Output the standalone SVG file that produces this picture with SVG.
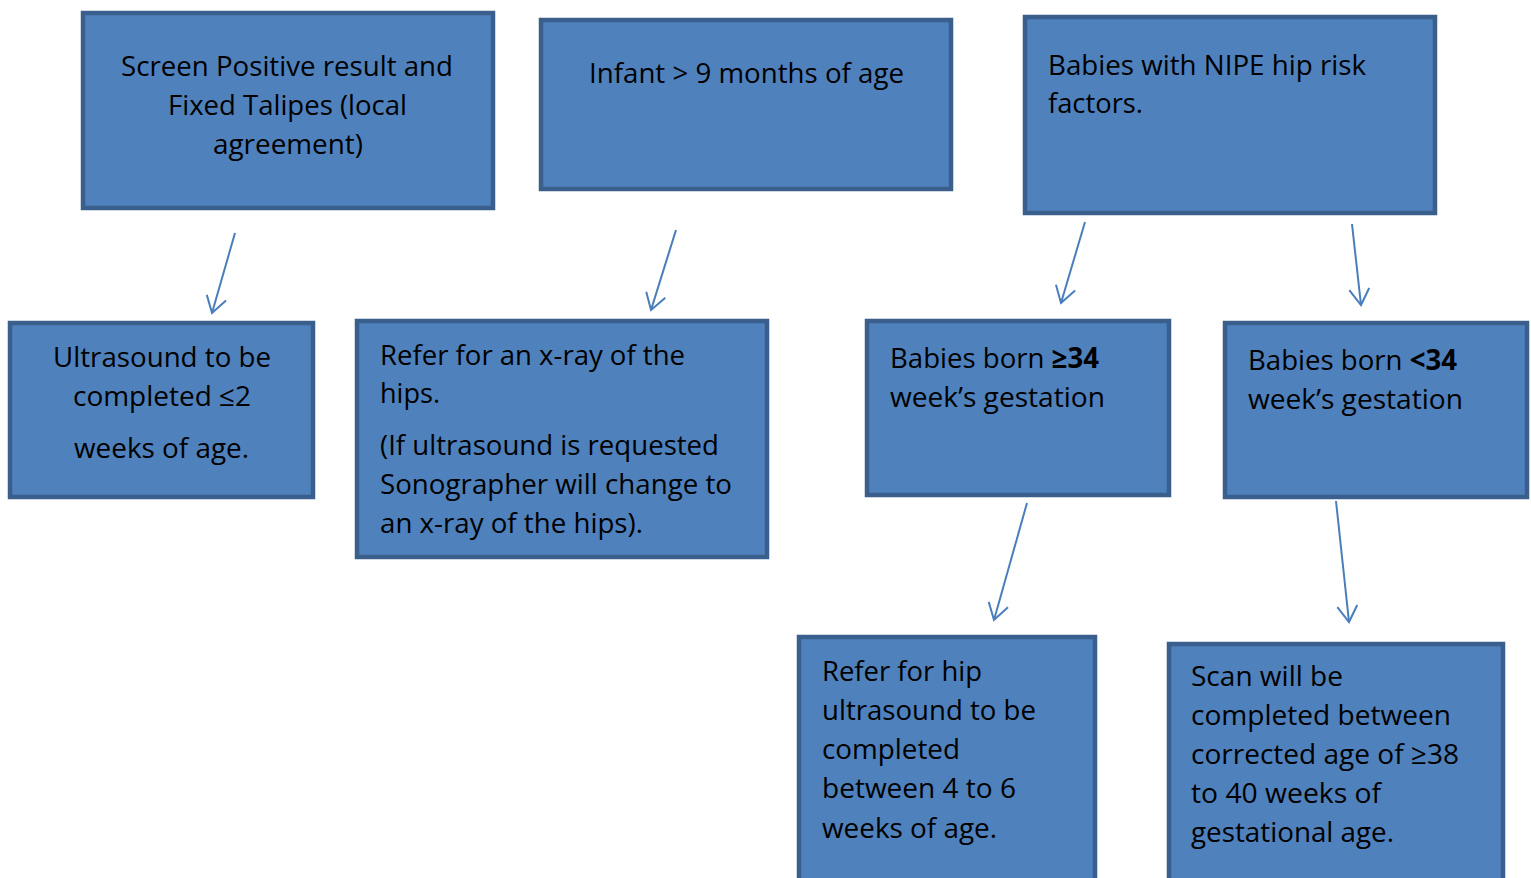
<svg xmlns="http://www.w3.org/2000/svg" width="1531" height="878" viewBox="0 0 1531 878">
<style>
.box{fill:#4F81BD;stroke:#3A5F8D;stroke-width:4.5}
.t{font-family:"Open Sans","Noto Sans",sans-serif;font-size:28px;fill:#000}
.c{text-anchor:middle}
.b{font-weight:bold}
.conn line{stroke:#4A7EBB;stroke-width:2;marker-end:url(#ah)}
</style>
<defs>
<marker id="ah" markerUnits="userSpaceOnUse" markerWidth="20" markerHeight="24" viewBox="0 0 20 24" refX="18" refY="12" orient="auto">
<path d="M2,2 L18,12 L2,22" fill="none" stroke="#4A7EBB" stroke-width="2"/>
</marker>
</defs>
<rect width="1531" height="878" fill="#fff"/>

<g id="n1">
<rect class="box" x="83" y="13" width="410" height="195"/>
<text class="t" x="121" y="76" textLength="332" lengthAdjust="spacingAndGlyphs">Screen Positive result and</text>
<text class="t" x="168" y="115" textLength="239" lengthAdjust="spacingAndGlyphs">Fixed Talipes (local</text>
<text class="t" x="213" y="154" textLength="150" lengthAdjust="spacingAndGlyphs">agreement)</text>
</g>

<g id="n2">
<rect class="box" x="541" y="20" width="410" height="169"/>
<text class="t" x="589" y="83" textLength="315" lengthAdjust="spacingAndGlyphs">Infant &gt; 9 months of age</text>
</g>

<g id="n3">
<rect class="box" x="1025" y="17" width="410" height="196"/>
<text class="t" x="1048" y="75" textLength="318" lengthAdjust="spacingAndGlyphs">Babies with NIPE hip risk</text>
<text class="t" x="1048" y="113" textLength="95" lengthAdjust="spacingAndGlyphs">factors.</text>
</g>

<g id="n4">
<rect class="box" x="10" y="323" width="303" height="174"/>
<text class="t" x="53" y="367" textLength="218" lengthAdjust="spacingAndGlyphs">Ultrasound to be</text>
<text class="t" x="73" y="406" textLength="178" lengthAdjust="spacingAndGlyphs">completed ≤2</text>
<text class="t" x="74" y="458" textLength="175" lengthAdjust="spacingAndGlyphs">weeks of age.</text>
</g>

<g id="n5">
<rect class="box" x="357" y="321" width="410" height="236"/>
<text class="t" x="380" y="365" textLength="305" lengthAdjust="spacingAndGlyphs">Refer for an x-ray of the</text>
<text class="t" x="380" y="403" textLength="60" lengthAdjust="spacingAndGlyphs">hips.</text>
<text class="t" x="380" y="455" textLength="339" lengthAdjust="spacingAndGlyphs">(If ultrasound is requested</text>
<text class="t" x="380" y="494" textLength="352" lengthAdjust="spacingAndGlyphs">Sonographer will change to</text>
<text class="t" x="380" y="533" textLength="263" lengthAdjust="spacingAndGlyphs">an x-ray of the hips).</text>
</g>

<g id="n6">
<rect class="box" x="867" y="321" width="302" height="174"/>
<text class="t" x="890" y="368" textLength="209" lengthAdjust="spacingAndGlyphs">Babies born <tspan class="b">≥34</tspan></text>
<text class="t" x="890" y="407" textLength="215" lengthAdjust="spacingAndGlyphs">week’s gestation</text>
</g>

<g id="n7">
<rect class="box" x="1225" y="323" width="302" height="174"/>
<text class="t" x="1248" y="370" textLength="209" lengthAdjust="spacingAndGlyphs">Babies born <tspan class="b">&lt;34</tspan></text>
<text class="t" x="1248" y="409" textLength="215" lengthAdjust="spacingAndGlyphs">week’s gestation</text>
</g>

<g id="n8">
<rect class="box" x="799" y="637" width="296" height="270"/>
<text class="t" x="822" y="681" textLength="160" lengthAdjust="spacingAndGlyphs">Refer for hip</text>
<text class="t" x="822" y="720" textLength="214" lengthAdjust="spacingAndGlyphs">ultrasound to be</text>
<text class="t" x="822" y="759" textLength="138" lengthAdjust="spacingAndGlyphs">completed</text>
<text class="t" x="822" y="798" textLength="194" lengthAdjust="spacingAndGlyphs">between 4 to 6</text>
<text class="t" x="822" y="838" textLength="175" lengthAdjust="spacingAndGlyphs">weeks of age.</text>
</g>

<g id="n9">
<rect class="box" x="1169" y="644" width="334" height="270"/>
<text class="t" x="1191" y="686" textLength="152" lengthAdjust="spacingAndGlyphs">Scan will be</text>
<text class="t" x="1191" y="725" textLength="260" lengthAdjust="spacingAndGlyphs">completed between</text>
<text class="t" x="1191" y="764" textLength="268" lengthAdjust="spacingAndGlyphs">corrected age of ≥38</text>
<text class="t" x="1191" y="803" textLength="190" lengthAdjust="spacingAndGlyphs">to 40 weeks of</text>
<text class="t" x="1191" y="842" textLength="203" lengthAdjust="spacingAndGlyphs">gestational age.</text>
</g>

<g id="connectors" class="conn">
<line x1="235" y1="233" x2="212" y2="313"/>
<line x1="676" y1="230" x2="651" y2="310"/>
<line x1="1085" y1="222" x2="1061" y2="303"/>
<line x1="1352" y1="224" x2="1361" y2="305"/>
<line x1="1027" y1="503" x2="994" y2="620"/>
<line x1="1336" y1="501" x2="1349" y2="622"/>
</g>
</svg>
